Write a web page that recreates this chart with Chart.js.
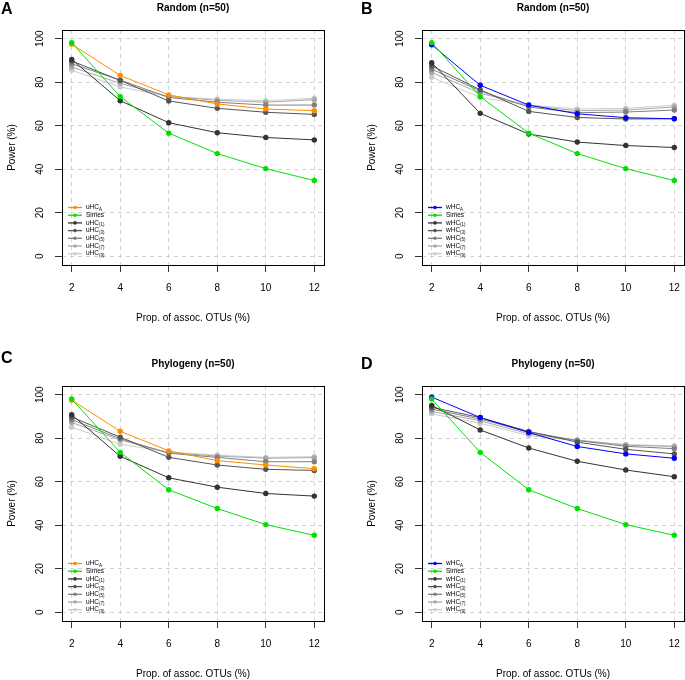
<!DOCTYPE html>
<html>
<head>
<meta charset="utf-8">
<script src="https://cdn.jsdelivr.net/npm/chart.js@4.4.1/dist/chart.umd.min.js"></script>
<style>
  body { margin: 0; background: #fff; overflow: hidden; }
  #wrap { position: relative; width: 685px; height: 680px; overflow: hidden; }
  canvas { position: absolute; }
</style>
</head>
<body>
<div id="wrap">
  <canvas id="panelA" width="342" height="340" style="left:0px;top:-16px"></canvas>
  <canvas id="panelB" width="342" height="340" style="left:360px;top:-16px"></canvas>
  <canvas id="panelC" width="342" height="340" style="left:0px;top:340px"></canvas>
  <canvas id="panelD" width="342" height="340" style="left:360px;top:340px"></canvas>
</div>
<script>
// proportion of associated OTUs (%)
const xValues = [2, 4, 6, 8, 10, 12];
const yTicks = [0, 20, 40, 60, 80, 100];

const uLabels = ['uHC_A', 'Simes', 'uHC_(1)', 'uHC_(3)', 'uHC_(5)', 'uHC_(7)', 'uHC_(9)'];
const wLabels = ['wHC_A', 'Simes', 'wHC_(1)', 'wHC_(3)', 'wHC_(5)', 'wHC_(7)', 'wHC_(9)'];
const uColors = ['#ff8c00', '#00e000', '#333333', '#555555', '#808080', '#a8a8a8', '#cccccc'];
const wColors = ['#0000ff', '#00e000', '#333333', '#555555', '#808080', '#a8a8a8', '#cccccc'];

// Random (n=50)
const randomSimes = [98.2, 73.4, 56.6, 47.2, 40.3, 34.8];
const randomUhcA = [97.5, 83.1, 74.2, 70.0, 67.7, 66.9];
const randomUhc1 = [90.5, 71.5, 61.4, 56.8, 54.6, 53.5];
const randomUhc3 = [89.8, 80.8, 71.4, 68.0, 66.2, 65.2];
const randomUhc5 = [88.5, 81.0, 73.0, 70.8, 69.5, 69.5];
const randomUhc7 = [87.0, 79.5, 73.4, 71.7, 70.8, 72.0];
const randomUhc9 = [85.5, 77.8, 73.5, 72.2, 71.5, 72.6];

const randomWhcA = [97.2, 78.6, 69.5, 65.5, 63.7, 63.2];
const randomWhc1 = [89.0, 65.7, 56.2, 52.5, 50.9, 50.0];
const randomWhc3 = [87.5, 76.5, 66.6, 63.8, 63.1, 63.2];
const randomWhc5 = [86.0, 76.0, 68.6, 66.0, 66.3, 67.2];
const randomWhc7 = [84.5, 75.0, 69.2, 66.9, 67.2, 68.6];
const randomWhc9 = [82.3, 73.0, 69.5, 67.7, 68.0, 69.4];

// Phylogeny (n=50)
const phyloSimes = [98.0, 73.5, 56.3, 47.7, 40.3, 35.4];
const phyloUhcA = [97.5, 83.2, 74.2, 69.7, 67.7, 66.0];
const phyloUhc1 = [90.8, 71.7, 61.8, 57.5, 54.6, 53.4];
const phyloUhc3 = [89.7, 80.5, 71.2, 67.7, 65.7, 65.2];
const phyloUhc5 = [88.5, 79.8, 73.1, 71.2, 69.2, 69.2];
const phyloUhc7 = [87.2, 79.2, 73.4, 71.8, 70.8, 71.1];
const phyloUhc9 = [85.1, 77.2, 73.7, 72.2, 71.2, 71.5];

const phyloWhcA = [98.9, 89.5, 82.6, 76.2, 72.8, 70.8];
const phyloWhc1 = [95.1, 83.8, 75.5, 69.4, 65.4, 62.3];
const phyloWhc3 = [94.2, 89.5, 83.1, 78.2, 74.9, 72.8];
const phyloWhc5 = [93.4, 88.8, 82.9, 78.9, 76.3, 75.2];
const phyloWhc7 = [92.3, 88.0, 82.0, 79.2, 76.8, 76.2];
const phyloWhc9 = [91.2, 86.9, 81.2, 78.9, 77.1, 76.5];

const FONT = "'Liberation Sans', Arial, Helvetica, sans-serif";

// frame, title, panel letter and the little legend in the bottom left corner
const panelDecor = {
    id: 'panelDecor',
    afterDatasetsDraw(chart, args, opts) {
        const ctx = chart.ctx;
        const a = chart.chartArea;
        ctx.save();
        ctx.strokeStyle = '#000';
        ctx.lineWidth = 1;
        ctx.strokeRect(a.left + 0.5, a.top + 0.5, a.right - a.left, a.bottom - a.top);

        ctx.fillStyle = '#000';
        ctx.textAlign = 'center';
        ctx.textBaseline = 'middle';
        ctx.font = 'bold 10px ' + FONT;
        ctx.fillText(opts.title, (a.left + a.right) / 2, 24.5);

        ctx.textAlign = 'left';
        ctx.textBaseline = 'top';
        ctx.font = 'bold 16px ' + FONT;
        ctx.fillText(opts.letter, 1, opts.letterTop);

        // legend
        chart.data.datasets.forEach((ds, i) => {
            const y = 223.5 + i * 7.7;
            ctx.strokeStyle = ds.borderColor;
            ctx.fillStyle = ds.borderColor;
            ctx.lineWidth = 1.3;
            ctx.beginPath();
            ctx.moveTo(68, y);
            ctx.lineTo(82, y);
            ctx.stroke();
            ctx.beginPath();
            ctx.arc(75, y, 1.8, 0, Math.PI * 2);
            ctx.fill();

            const parts = ds.label.split('_');
            ctx.fillStyle = '#000';
            ctx.textBaseline = 'middle';
            ctx.font = '6.5px ' + FONT;
            ctx.fillText(parts[0], 86, y);
            if (parts[1]) {
                const w = ctx.measureText(parts[0]).width;
                ctx.font = '4.5px ' + FONT;
                ctx.fillText(parts[1], 86 + w, y + 1.8);
            }
        });
        ctx.restore();
    }
};

function makePanel(id, letter, letterTop, title, labels, colors, series) {
    // draw Simes last so it sits on top like in the original
    const orders = [1, 0, 2, 3, 4, 5, 6];
    const datasets = series.map((vals, i) => ({
        label: labels[i],
        data: vals.map((v, j) => ({ x: xValues[j], y: v })),
        borderColor: colors[i],
        backgroundColor: colors[i],
        borderWidth: 1,
        pointRadius: 2.7,
        pointBorderWidth: 0,
        tension: 0,
        order: orders[i]
    }));

    new Chart(document.getElementById(id), {
        type: 'line',
        data: { datasets },
        plugins: [panelDecor],
        options: {
            responsive: false,
            animation: false,
            layout: { padding: { left: 0, top: 46, right: 18, bottom: 0 } },
            plugins: {
                legend: { display: false },
                tooltip: { enabled: false },
                panelDecor: { title, letter, letterTop }
            },
            scales: {
                x: {
                    type: 'linear',
                    min: 1.6,
                    max: 12.4,
                    afterBuildTicks: s => { s.ticks = xValues.map(v => ({ value: v })); },
                    afterFit: s => { s.height = 59; },
                    grid: {
                        color: '#d3d3d3',
                        lineWidth: 1,
                        tickLength: 7,
                        tickColor: '#333',
                        tickBorderDash: []
                    },
                    border: { display: false, dash: [4, 4] },
                    ticks: {
                        autoSkip: false,
                        maxRotation: 0,
                        padding: 10,
                        color: '#000',
                        font: { family: FONT, size: 10 },
                        callback: v => String(v)
                    },
                    title: {
                        display: true,
                        text: 'Prop. of assoc. OTUs (%)',
                        color: '#000',
                        font: { family: FONT, size: 10 },
                        padding: { top: 0, bottom: 0 }
                    }
                },
                y: {
                    type: 'linear',
                    min: -4,
                    max: 104,
                    afterBuildTicks: s => { s.ticks = yTicks.map(v => ({ value: v })); },
                    afterFit: s => { s.width = 62; },
                    grid: {
                        color: '#d3d3d3',
                        lineWidth: 1,
                        tickLength: 7,
                        tickColor: '#333',
                        tickBorderDash: []
                    },
                    border: { display: false, dash: [4, 4] },
                    ticks: {
                        autoSkip: false,
                        minRotation: 90,
                        maxRotation: 90,
                        crossAlign: 'center',
                        padding: 6,
                        color: '#000',
                        font: { family: FONT, size: 10 },
                        callback: v => String(v)
                    },
                    title: {
                        display: true,
                        text: 'Power (%)',
                        color: '#000',
                        font: { family: FONT, size: 10 },
                        padding: { top: 6, bottom: 0 }
                    }
                }
            }
        }
    });
}

makePanel('panelA', 'A', 18, 'Random (n=50)', uLabels, uColors,
    [randomUhcA, randomSimes, randomUhc1, randomUhc3, randomUhc5, randomUhc7, randomUhc9]);
makePanel('panelB', 'B', 18, 'Random (n=50)', wLabels, wColors,
    [randomWhcA, randomSimes, randomWhc1, randomWhc3, randomWhc5, randomWhc7, randomWhc9]);
makePanel('panelC', 'C', 11, 'Phylogeny (n=50)', uLabels, uColors,
    [phyloUhcA, phyloSimes, phyloUhc1, phyloUhc3, phyloUhc5, phyloUhc7, phyloUhc9]);
makePanel('panelD', 'D', 17, 'Phylogeny (n=50)', wLabels, wColors,
    [phyloWhcA, phyloSimes, phyloWhc1, phyloWhc3, phyloWhc5, phyloWhc7, phyloWhc9]);
</script>
</body>
</html>
